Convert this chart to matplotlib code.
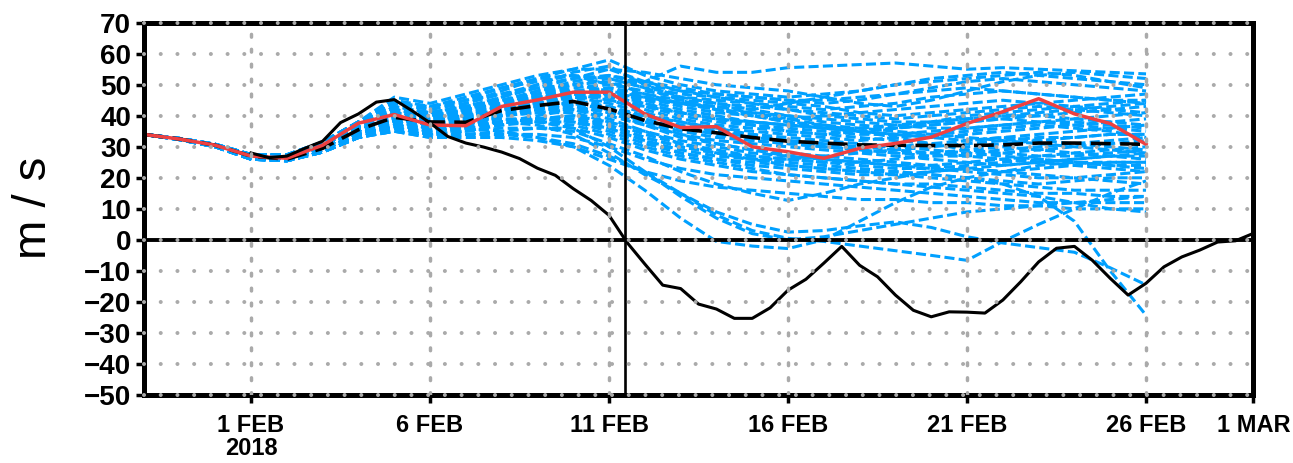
import matplotlib
matplotlib.use('Agg')
import matplotlib.pyplot as plt
import pandas as pd
from datetime import datetime

plt.rcParams['font.family'] = ['Liberation Sans', 'DejaVu Sans']

# Time axes
ens_dates = pd.date_range('2018-01-29', '2018-02-26', freq='D')
obs_dates = pd.date_range('2018-02-01', '2018-03-01', freq='12h')

# Observed wind (12-hourly)
obs_wind = [28, 26.5, 27, 29.5, 31.8, 37.8, 40.6, 44.4, 45.2, 41.6,
            37.7, 33.3, 31.2, 29.9, 28.3, 26.2, 23.1, 20.8, 16.5, 12.7,
            7.9, -0.8, -7.8, -14.6, -15.7, -20.7, -22.3, -25.3, -25.3, -21.9,
            -16.2, -12.7, -7.5, -2.1, -8.2, -11.9, -17.8, -22.7, -24.8, -23.2,
            -23.3, -23.6, -19.4, -13.5, -7.1, -2.7, -2.1, -6.6, -12.4, -17.8,
            -14.0, -8.7, -5.5, -3.3, -0.7, -0.3, 2.1]

# Highlighted member (red) and ensemble mean (daily)
red_member = [34, 32.5, 30.5, 27, 26.3, 30.5, 37.6, 40.4, 37, 36.8, 43, 45.1, 47.6, 47.6,
              40.6, 36.2, 36.5, 30, 28.4, 26.3, 29.5, 31.1, 33.1, 37.5, 41.3, 45.5,
              40.6, 37.5, 30.8]
ens_mean = [34, 32.5, 30.5, 27, 26, 29.5, 35.5, 39.5, 38, 37.9, 41.7, 43.3, 44.6, 42.2,
            38.5, 35.8, 34.5, 33, 31.8, 31.2, 30.6, 30.5, 30.4, 30.4, 30.6, 31.2,
            31.2, 31, 30.8]

# Ensemble members (daily)
ens_members = [
    [34, 32.6, 30.6, 27.2, 26.8, 30.5, 36.5, 42, 40, 44, 48, 52, 55, 58, 53, 50, 48, 47, 46, 47, 48, 50, 52, 53, 54, 53, 52, 51, 50],
    [34, 32.7, 30.8, 27.5, 27.4, 31.5, 38, 44, 42, 45, 49, 51, 53, 50, 51, 56, 54, 54, 55.5, 56, 56.5, 57, 56, 55, 55.5, 55, 54.5, 54, 53.5],
    [34, 32.5, 30.4, 26.8, 26.2, 29.8, 35.2, 40, 39, 42, 46, 50, 54, 56, 50, 46, 44, 42, 44, 46, 48, 50, 51, 52, 53, 54, 53, 51, 49],
    [34, 32.4, 30.2, 26.4, 25.8, 29, 34, 38, 37, 40, 44, 48, 51, 53, 51, 49, 47, 46, 45, 44, 45, 47, 49, 51, 52, 51, 50, 49, 48],
    [34, 32.6, 30.6, 27.2, 26.8, 30.5, 36.5, 43, 41, 43, 46, 49, 52, 55, 54, 52, 50, 49, 48, 46, 44, 43, 45, 48, 51, 53, 54, 53, 52],
    [34, 32.5, 30.4, 26.8, 26.2, 29.8, 35.2, 41, 40, 42, 45, 47, 49, 50, 48, 46, 45, 44, 43, 42, 43, 44, 46, 47, 48, 47, 46, 45, 44],
    [34, 32.7, 30.8, 27.5, 27.4, 31.5, 38, 45, 43, 46, 49, 52, 53, 52, 49, 47, 46, 45, 44, 43, 41, 40, 41, 42, 43, 44, 45, 46, 47],
    [34, 32.3, 30, 26, 25.5, 28.3, 33, 37, 36, 38, 41, 44, 47, 49, 47, 45, 44, 43, 42, 41, 40, 39, 40, 41, 42, 43, 42, 41, 40],
    [34, 32.4, 30.2, 26.4, 25.8, 29, 34, 39, 38, 41, 44, 46, 48, 49, 46, 43, 41, 40, 39, 40, 41, 42, 43, 44, 45, 44, 43, 42, 41],
    [34, 32.6, 30.6, 27.2, 26.8, 30.5, 36.5, 42, 41, 43, 45, 47, 48, 47, 45, 44, 43, 42, 40, 38, 37, 36, 37, 38, 39, 38, 37, 36, 35],
    [34, 32.5, 30.4, 26.8, 26.2, 29.8, 35.2, 40, 38, 40, 43, 45, 47, 48, 45, 42, 40, 38, 37, 36, 35, 34, 33, 34, 35, 36, 37, 38, 39],
    [34, 32.7, 30.8, 27.5, 27.4, 31.5, 38, 44, 43, 45, 47, 49, 50, 48, 46, 44, 42, 40, 38, 36, 35, 36, 38, 40, 41, 42, 43, 44, 45],
    [34, 32.3, 30, 26, 25.5, 28.3, 33, 36, 35, 37, 40, 42, 44, 45, 43, 41, 39, 38, 37, 36, 35, 34, 33, 32, 33, 34, 35, 36, 37],
    [34, 32.4, 30.2, 26.4, 25.8, 29, 34, 38, 37, 39, 42, 44, 46, 46, 44, 41, 39, 37, 35, 34, 33, 32, 31, 30, 31, 32, 33, 34, 34],
    [34, 32.6, 30.6, 27.2, 26.8, 30.5, 36.5, 41, 39, 41, 43, 45, 46, 44, 41, 38, 36, 35, 34, 33, 32, 33, 34, 35, 36, 37, 36, 35, 33],
    [34, 32.5, 30.4, 26.8, 26.2, 29.8, 35.2, 39, 38, 40, 42, 43, 44, 43, 40, 37, 35, 33, 32, 31, 30, 30, 31, 32, 33, 32, 31, 30, 29],
    [34, 32.7, 30.8, 27.5, 27.4, 31.5, 38, 43, 41, 43, 45, 46, 47, 45, 42, 39, 37, 36, 35, 34, 35, 36, 37, 38, 39, 40, 41, 42, 43],
    [34, 32.3, 30, 26, 25.5, 28.3, 33, 36, 34, 36, 38, 40, 42, 42, 40, 38, 36, 34, 32, 30, 29, 28, 27, 27, 28, 29, 30, 31, 32],
    [34, 32.4, 30.2, 26.4, 25.8, 29, 34, 37, 36, 38, 40, 41, 42, 40, 37, 34, 32, 31, 30, 29, 28, 27, 26, 25, 24, 25, 26, 27, 28],
    [34, 32.6, 30.6, 27.2, 26.8, 30.5, 36.5, 40, 39, 40, 42, 44, 45, 43, 39, 36, 34, 32, 31, 30, 29, 28, 28, 29, 30, 29, 28, 27, 26],
    [34, 32.5, 30.4, 26.8, 26.2, 29.8, 35.2, 39, 37, 38, 40, 42, 43, 41, 37, 33, 31, 29, 28, 27, 26, 25, 24, 23, 22, 23, 24, 25, 25],
    [34, 32.7, 30.8, 27.5, 27.4, 31.5, 38, 42, 40, 41, 43, 44, 44, 42, 38, 35, 33, 32, 31, 30, 30, 29, 28, 27, 26, 25, 24, 23, 22],
    [34, 32.3, 30, 26, 25.5, 28.3, 33, 35, 34, 35, 37, 39, 40, 38, 35, 32, 30, 28, 27, 26, 25, 24, 23, 22, 21, 20, 20, 21, 22],
    [34, 32.4, 30.2, 26.4, 25.8, 29, 34, 37, 35, 36, 38, 39, 40, 37, 33, 30, 28, 26, 25, 24, 23, 22, 21, 20, 19, 18, 19, 20, 20],
    [34, 32.6, 30.6, 27.2, 26.8, 30.5, 36.5, 40, 38, 39, 40, 41, 41, 38, 34, 31, 29, 27, 26, 25, 24, 23, 23, 24, 25, 26, 25, 24, 24],
    [34, 32.5, 30.4, 26.8, 26.2, 29.8, 35.2, 38, 36, 37, 38, 39, 39, 36, 32, 28, 26, 24, 23, 22, 21, 21, 22, 23, 22, 21, 20, 19, 18],
    [34, 32.7, 30.8, 27.5, 27.4, 31.5, 38, 41, 39, 40, 41, 42, 42, 39, 35, 31, 28, 26, 24, 23, 22, 21, 20, 19, 18, 17, 16, 16, 16],
    [34, 32.3, 30, 26, 25.5, 28.3, 33, 35, 33, 34, 35, 36, 36, 33, 29, 26, 24, 22, 21, 20, 19, 18, 18, 17, 16, 15, 15, 14, 14],
    [34, 32.4, 30.2, 26.4, 25.8, 29, 34, 36, 34, 34, 34, 34, 33, 30, 26, 23, 21, 20, 19, 18, 17, 16, 15, 14, 13, 12, 12, 12, 12],
    [34, 32.6, 30.6, 27.2, 26.8, 30.5, 36.5, 39, 37, 37, 38, 38, 37, 34, 30, 27, 25, 23, 21, 20, 19, 18, 17, 16, 15, 14, 12, 10, 9],
    [34, 32.5, 30.4, 26.8, 26.2, 29.8, 35.2, 38, 36, 36, 35, 33, 30, 24, 16, 7, -0.5, -2, -2.8, 0, 6, 12, 17, 20, 22, 24, 25, 25, 25],
    [34, 32.4, 30.2, 26.4, 25.8, 29, 34, 37, 35, 35, 36, 36, 35, 31, 27, 22, 18, 15, 12.7, 15, 18, 20, 22, 23, 24, 25, 26, 27, 27],
    [34, 32.6, 30.6, 27.2, 26.8, 30.5, 36.5, 40, 38, 38, 38, 37, 34, 28, 21, 15, 9, 5, 2.5, 3, 4.5, 5.8, 4, 1, -1, -2.5, -4, -9, -14.5],
    [34, 32.3, 30, 26, 25.5, 28.3, 33, 36, 34, 34, 34, 33, 31, 27, 22, 15, 8, 3, 0.5, -0.5, -2, -3.5, -5, -6.6, -0.5, 5, 10, 15, 19],
    [34, 32.5, 30.4, 26.8, 26.2, 29.8, 35.2, 39, 37, 38, 39, 39, 38, 35, 31, 28, 26, 25, 24, 23, 22, 22, 21, 20, 18, 14, 6, -10, -24.3],
    [34, 32.7, 30.8, 27.5, 27.4, 31.5, 38, 41, 39, 39, 39, 38, 36, 30, 22, 14, 7, 2, 0, 1, 3, 5, 7, 9, 10, 11, 12, 13, 14],
    [34, 32.5, 30.4, 26.8, 26.2, 29.8, 35.2, 40, 39, 41, 44, 47, 50, 52, 49, 45, 42, 40, 38, 37, 36, 35, 34, 33, 32, 31, 30, 29, 28],
    [34, 32.6, 30.6, 27.2, 26.8, 30.5, 36.5, 42, 40, 42, 45, 48, 50, 51, 47, 44, 42, 41, 40, 39, 38, 37, 36, 36, 37, 38, 39, 40, 41],
    [34, 32.4, 30.2, 26.4, 25.8, 29, 34, 38, 37, 39, 41, 43, 45, 47, 46, 44, 43, 41, 39, 37, 35, 33, 31, 29, 28, 27, 27, 28, 29],
    [34, 32.3, 30, 26, 25.5, 28.3, 33, 36, 35, 36, 37, 38, 38, 36, 32, 29, 27, 26, 26, 27, 28, 29, 30, 31, 32, 33, 33, 34, 34],
    [34, 32.7, 30.8, 27.5, 27.4, 31.5, 38, 46, 44, 47, 50, 53, 55, 55, 51, 48, 46, 44, 42, 40, 39, 38, 38, 39, 40, 41, 42, 43, 44],
    [34, 32.5, 30.4, 26.8, 26.2, 29.8, 35.2, 39, 38, 39, 41, 42, 43, 41, 38, 36, 35, 34, 33, 32, 31, 30, 29, 28, 27, 26, 25, 24, 23],
    [34, 32.6, 30.6, 27.2, 26.8, 30.5, 36.5, 41, 40, 42, 44, 46, 47, 46, 43, 40, 38, 37, 36, 35, 34, 34, 35, 36, 37, 38, 38, 37, 36],
    [34, 32.4, 30.2, 26.4, 25.8, 29, 34, 38, 36, 37, 38, 39, 39, 37, 33, 30, 28, 27, 26, 25, 25, 26, 27, 28, 29, 30, 31, 32, 33],
    [34, 32.3, 30, 26, 25.5, 28.3, 33, 35, 33, 33, 33, 32, 30, 26, 22, 19, 17, 16, 15, 14, 13, 13, 12, 12, 11, 11, 10, 10, 10],
    [34, 32.7, 30.8, 27.5, 27.4, 31.5, 38, 44, 42, 44, 47, 50, 52, 53, 50, 48, 47, 46, 45, 45, 46, 47, 48, 49, 48, 47, 46, 45, 45],
    [34, 32.5, 30.4, 26.8, 26.2, 29.8, 35.2, 40, 38, 40, 42, 44, 46, 47, 44, 41, 39, 38, 37, 36, 36, 37, 38, 39, 40, 40, 39, 38, 37],
    [34, 32.6, 30.6, 27.2, 26.8, 30.5, 36.5, 41, 39, 40, 42, 43, 44, 42, 38, 34, 31, 29, 27, 26, 25, 24, 24, 25, 26, 27, 28, 29, 30],
]

reversal_time = datetime(2018, 2, 11, 10, 50)
y_ticks = list(range(-50, 71, 10))
x_grid = pd.to_datetime(['2018-02-01', '2018-02-06', '2018-02-11', '2018-02-16',
                         '2018-02-21', '2018-02-26'])
x_ticks = pd.to_datetime(['2018-02-01', '2018-02-06', '2018-02-11', '2018-02-16',
                          '2018-02-21', '2018-02-26', '2018-03-01'])
x_labels = ['1 FEB\n2018', '6 FEB', '11 FEB', '16 FEB', '21 FEB', '26 FEB', '1 MAR']

for i, m in enumerate(ens_members):
    assert len(m) == len(ens_dates), f'member {i} has {len(m)} values'

fig = plt.figure(figsize=(12.93, 4.63), dpi=100)
ax = fig.add_axes([0.1111, 0.1469, 0.8583, 0.8041])

for m in ens_members:
    ax.plot(ens_dates, m, color='#00A0FF', lw=2.2, ls=(0, (3.3, 1.4)), zorder=2)

ax.plot(ens_dates, ens_mean, color='black', lw=2.6, ls=(0, (5.5, 2.6)), zorder=3)
ax.plot(ens_dates, red_member, color='#EE4040', lw=2.5, zorder=4)
ax.plot(obs_dates, obs_wind, color='black', lw=2.2, zorder=5)

ax.axhline(0, color='black', lw=2.8, zorder=5)
ax.axvline(reversal_time, color='black', lw=1.9, zorder=5)

# dotted grid drawn on top of everything
for y in y_ticks:
    ax.axhline(y, color='#aaaaaa', lw=2.9, ls=(0, (0.01, 4.14)),
               dash_capstyle='round', zorder=8, clip_on=False)
for d in x_grid:
    ax.axvline(d, color='#aaaaaa', lw=2.5, ls=(0, (0.8, 3.5)),
               dash_capstyle='round', zorder=8)

ax.set_xlim(datetime(2018, 1, 29), datetime(2018, 3, 1))
ax.set_ylim(-50, 70)
ax.set_yticks(y_ticks)
ax.set_xticks(x_ticks)
ax.set_xticklabels(x_labels)

ax.tick_params(axis='y', direction='out', length=6, width=2.5, labelsize=20, pad=3)
ax.tick_params(axis='x', direction='out', length=6, width=2.5, labelsize=17, pad=8)
for t in ax.get_yticklabels():
    t.set_fontweight('bold')
for t in ax.get_xticklabels():
    t.set_fontweight('bold')
    t.set_linespacing(1.0)

for s in ax.spines.values():
    s.set_linewidth(3.6)
    s.set_zorder(7)

fig.text(0.0263, 0.551, 'm / s', rotation=90, fontsize=34, ha='center', va='center')

fig.savefig('out.png', dpi=100)
